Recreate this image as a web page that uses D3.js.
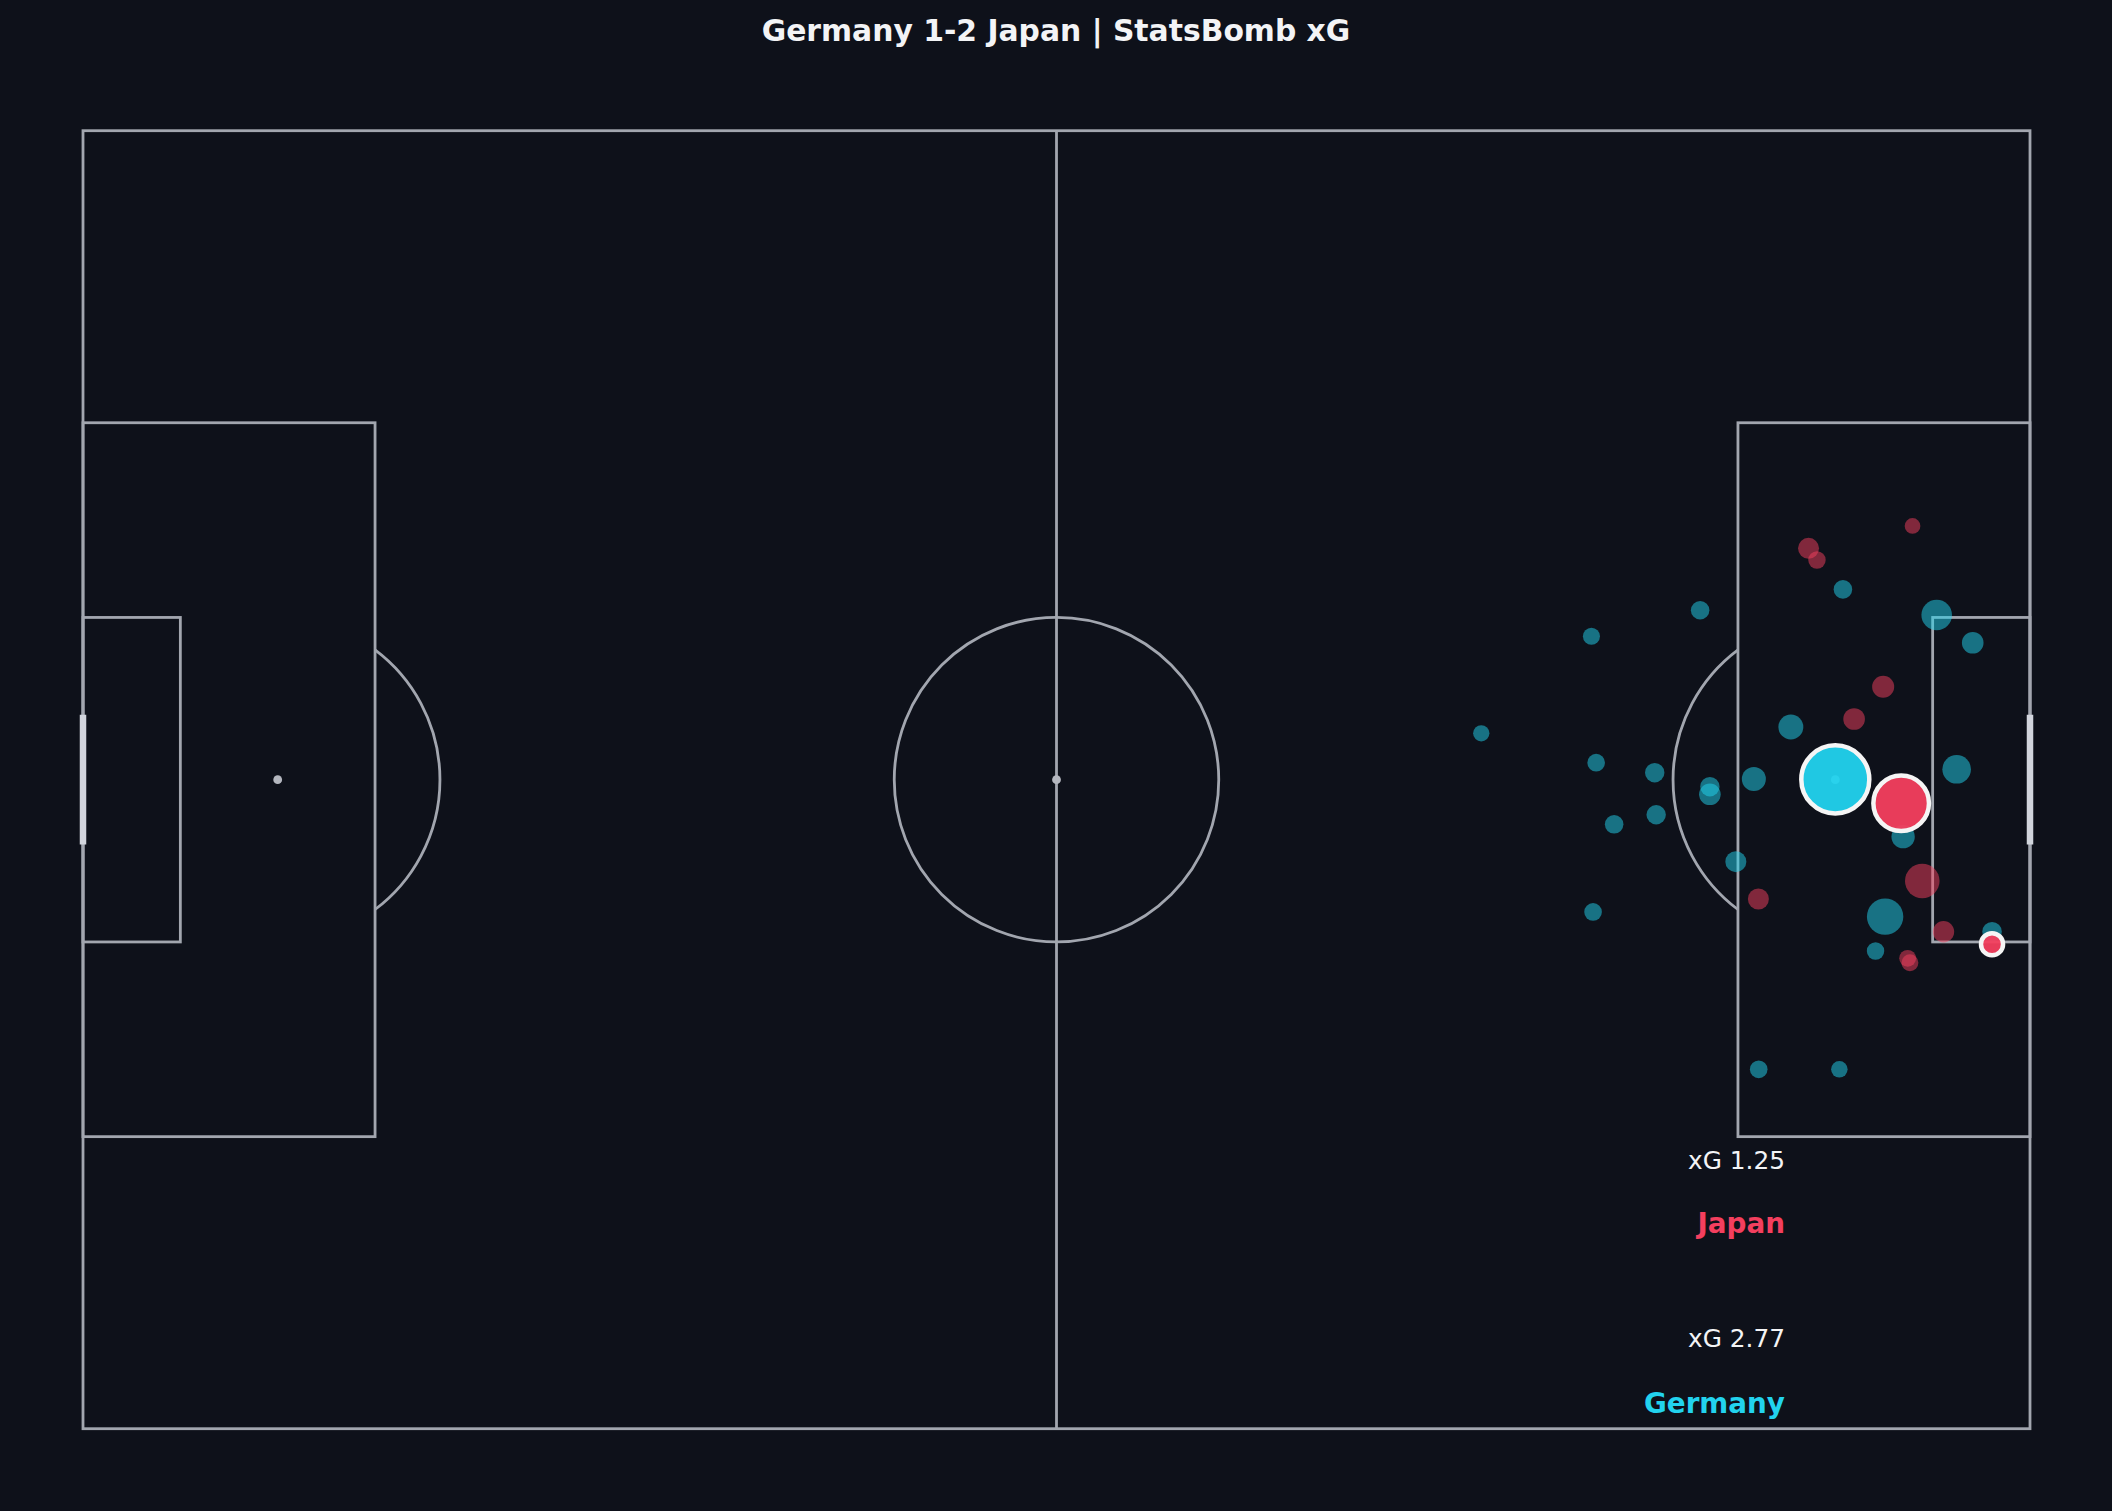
<!DOCTYPE html>
<html>
<head>
<meta charset="utf-8">
<script src="https://cdn.jsdelivr.net/npm/d3@7"></script>
<style>
  html, body { margin: 0; padding: 0; background: #0e111a; }
  svg { display: block; }
  text { font-family: "DejaVu Sans", sans-serif; }
</style>
</head>
<body>
<div id="chart"></div>
<script>
// ---- data (StatsBomb pitch coordinates, 120 x 80) ----
const teams = ["Germany", "Japan"];
const teamXgTotals = [2.77, 1.25];
const teamColors = ["#22d3ee", "#f43f5e"];

const germanyX = [99.67, 92.97, 108.47, 114.25, 116.47, 86.18, 105.26, 108.00, 93.26, 96.87, 100.27, 100.27, 102.98, 115.48, 96.96, 94.37, 101.87, 112.18, 111.07, 93.07, 110.48, 117.66, 103.28, 108.25];
const germanyY = [29.56, 31.16, 28.27, 29.85, 31.56, 37.14, 36.75, 39.98, 38.95, 39.57, 40.43, 40.90, 39.96, 39.36, 42.16, 42.75, 45.05, 43.51, 48.44, 48.15, 50.56, 49.37, 57.85, 57.85];
const germanyXg = [0.053, 0.045, 0.053, 0.144, 0.072, 0.041, 0.096, 0.712, 0.048, 0.058, 0.058, 0.072, 0.089, 0.126, 0.058, 0.053, 0.068, 0.084, 0.204, 0.048, 0.047, 0.059, 0.048, 0.042];
const germanyGoal = [0,0,0,0,0,0,0,1,0,0,0,0,0,0,0,0,0,0,0,0,0,0,0,0];

const japanX = [112.76, 106.35, 106.87, 110.95, 109.16, 112.06, 113.36, 103.26, 114.67, 112.46, 112.60, 117.66];
const japanY = [24.36, 25.74, 26.46, 34.27, 36.26, 41.45, 46.24, 47.35, 49.37, 51.01, 51.28, 50.14];
const japanXg = [0.038, 0.068, 0.047, 0.075, 0.072, 0.476, 0.184, 0.068, 0.070, 0.044, 0.044, 0.075];
const japanGoal = [0,0,0,0,0,1,0,0,0,0,0,1];

const title = "Germany 1-2 Japan | StatsBomb xG";

// ---- layout ----
const W = 2112, H = 1511;
const bg = "#0e111a";
const lineColor = "#a2a6af";
const lw = 2.8;

const svg = d3.select("#chart").append("svg")
  .attr("width", W).attr("height", H)
  .style("background", bg);

const x = d3.scaleLinear().domain([0, 120]).range([83, 2030]);
const y = d3.scaleLinear().domain([0, 80]).range([130.7, 1428.7]);
const k = (x(120) - x(0)) / 120;
const r = d3.scaleSqrt().domain([0, 1]).range([0, 40.3]);

const pitch = svg.append("g")
  .attr("fill", "none")
  .attr("stroke", lineColor)
  .attr("stroke-width", lw);

function rect(x0, y0, x1, y1) {
  pitch.append("rect")
    .attr("x", x(x0)).attr("y", y(y0))
    .attr("width", x(x1) - x(x0)).attr("height", y(y1) - y(y0));
}
rect(0, 0, 120, 80);
pitch.append("line").attr("x1", x(60)).attr("x2", x(60)).attr("y1", y(0)).attr("y2", y(80));
pitch.append("circle").attr("cx", x(60)).attr("cy", y(40)).attr("r", 10 * k);
rect(0, 18, 18, 62);
rect(102, 18, 120, 62);
rect(0, 30, 6, 50);
rect(114, 30, 120, 50);

const a = Math.acos(6 / 10);
const arc = d3.arc().innerRadius(10 * k).outerRadius(10 * k);
pitch.append("path")
  .attr("transform", `translate(${x(12)},${y(40)})`)
  .attr("d", arc({startAngle: Math.PI / 2 - a, endAngle: Math.PI / 2 + a}));
pitch.append("path")
  .attr("transform", `translate(${x(108)},${y(40)})`)
  .attr("d", arc({startAngle: -Math.PI / 2 - a, endAngle: -Math.PI / 2 + a}));

// spots
[[12, 40], [60, 40], [108, 40]].forEach(p => {
  svg.append("circle").attr("cx", x(p[0])).attr("cy", y(p[1])).attr("r", 4.4)
    .attr("fill", "#b4b7bf");
});
// goals
[0, 120].forEach(gx => {
  svg.append("line")
    .attr("x1", x(gx)).attr("x2", x(gx)).attr("y1", y(36)).attr("y2", y(44))
    .attr("stroke", "#d2d5dd").attr("stroke-width", 6.5);
});

// ---- shots ----
function shots(X, Y, XG, G, team) {
  return X.map((v, i) => ({x: v, y: Y[i], xg: XG[i], goal: G[i], team}));
}
const ger = shots(germanyX, germanyY, germanyXg, germanyGoal, 0);
const jap = shots(japanX, japanY, japanXg, japanGoal, 1);
const all = ger.concat(jap);
const misses = all.filter(d => !d.goal);
const goals = all.filter(d => d.goal).sort((p, q) => q.xg - p.xg);

svg.append("g").selectAll("circle").data(misses).join("circle")
  .attr("cx", d => x(d.x)).attr("cy", d => y(d.y)).attr("r", d => r(d.xg))
  .attr("fill", d => teamColors[d.team]).attr("fill-opacity", 0.5);

svg.append("g").selectAll("circle").data(goals).join("circle")
  .attr("cx", d => x(d.x)).attr("cy", d => y(d.y)).attr("r", d => r(d.xg))
  .attr("fill", d => teamColors[d.team]).attr("fill-opacity", 0.95)
  .attr("stroke", "#f5f5f5").attr("stroke-width", 4.5);

// ---- text ----
svg.append("text").attr("x", W / 2).attr("y", 40.5)
  .attr("text-anchor", "middle").attr("fill", "#f3f4f6")
  .attr("font-size", 29.8).attr("font-weight", "bold").text(title);

const labelX = 1785;
const labelRows = [
  {team: 1, xgY: 1168.5, nameY: 1233},
  {team: 0, xgY: 1346.5, nameY: 1413}
];
labelRows.forEach(row => {
  svg.append("text").attr("x", labelX).attr("y", row.xgY)
    .attr("text-anchor", "end").attr("fill", "#f3f4f6").attr("font-size", 24.8)
    .text("xG " + teamXgTotals[row.team].toFixed(2));
  svg.append("text").attr("x", labelX).attr("y", row.nameY)
    .attr("text-anchor", "end").attr("fill", teamColors[row.team])
    .attr("font-size", 27.8).attr("font-weight", "bold")
    .text(teams[row.team]);
});
</script>
</body>
</html>
